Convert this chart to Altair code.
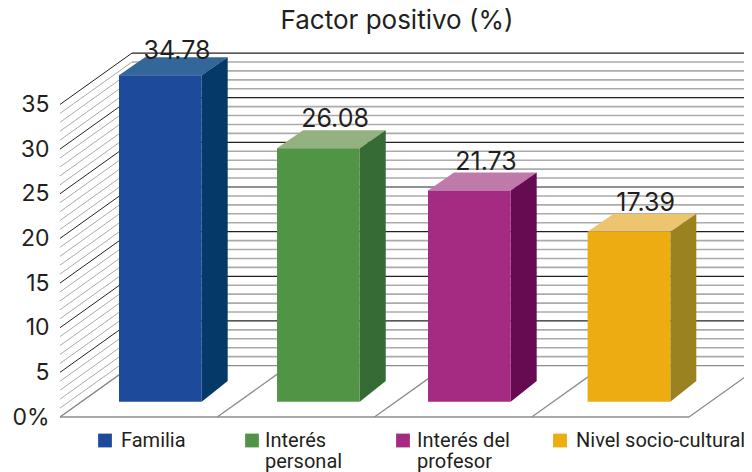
import altair as alt
import pandas as pd

# ---- values ----
chart_title = "Factor positivo (%)"
categories = ["Familia", "Interés personal", "Interés del profesor", "Nivel socio-cultural"]
legend_lines = ["Familia", "Interés\npersonal", "Interés del\nprofesor", "Nivel socio-cultural"]
values = [34.78, 26.08, 21.73, 17.39]
drawn_heights = [36.55, 28.38, 23.64, 19.03]   # bar heights as drawn, in axis units
front_colors = ["#1E4A9C", "#519445", "#A42A82", "#ECAC12"]
top_colors = ["#336699", "#93B27F", "#BE7BA9", "#EDC56F"]
side_colors = ["#053A68", "#376B36", "#660B52", "#9A8220"]
axis_ticks = [0, 5, 10, 15, 20, 25, 30, 35]
wall_levels = list(range(0, 36))

# ---- layout (units: x = category slots, y = axis units) ----
W, H = 736, 464
SLOT_PX, UNIT_PX = 157.25, 8.93
X0_PX, Y0_PX = 52, 409
bar_slot = [0.0, 1.005, 1.965, 2.98]
label_nudge = [-0.2, 0.35, 0.3, 0.35]
BAR_START = 59 / SLOT_PX
BAR_W = 82.7 / SLOT_PX
BAR_DX = 26 / SLOT_PX
BAR_BASE = 15.3 / UNIT_PX
TOP_DY = 18 / UNIT_PX
BOTTOM_DY = 20.7 / UNIT_PX
WALL_DX = 72 / SLOT_PX
WALL_DY = 51.4 / UNIT_PX
LABEL_DX = 58 / SLOT_PX

xs = alt.Scale(domain=[-X0_PX / SLOT_PX, (W - X0_PX) / SLOT_PX], range=[0, W], nice=False, zero=False)
ys = alt.Scale(domain=[(Y0_PX - H) / UNIT_PX, Y0_PX / UNIT_PX], range=[H, 0], nice=False, zero=False)
X = lambda f: alt.X(f, type="quantitative", scale=xs, axis=None)
Y = lambda f: alt.Y(f, type="quantitative", scale=ys, axis=None)

# walls
back = pd.DataFrame({"v": wall_levels})
back["x"] = WALL_DX
back["x2"] = 4.0 + WALL_DX
back["vb"] = back.v + WALL_DY
back["x0"] = 0.0
back["major"] = back.v % 5 == 0
back["floor"] = back.v == 0
minor = back[~back.major]
major = back[back.major & ~back.floor]
base = back[back.floor]


def wall(df, color, w_back, w_side):
    b = alt.Chart(df).mark_rule(color=color, strokeWidth=w_back).encode(
        x=X("x"), x2="x2", y=Y("vb"))
    s = alt.Chart(df).mark_rule(color=color, strokeWidth=w_side).encode(
        x=X("x0"), x2="x", y=Y("v"), y2="vb")
    return b + s


floor_rows = pd.DataFrame({"s": [0, 1, 2, 3, 4]})
floor_rows["x"] = floor_rows.s + WALL_DX
floor_rows["y"] = 0.0
floor_rows["y2"] = WALL_DY
floor = alt.Chart(floor_rows).mark_rule(color="#8c8c8c", strokeWidth=1.3).encode(
    x=X("s"), x2="x", y=Y("y"), y2="y2")
front_line = alt.Chart(pd.DataFrame({"a": [0.0], "b": [4.0], "y": [0.0]})).mark_rule(
    color="#8c8c8c", strokeWidth=1.5).encode(x=X("a"), x2="b", y=Y("y"))

# bars
rows, side, top = [], [], []
for i, c in enumerate(categories):
    l = bar_slot[i] + BAR_START
    r = l + BAR_W
    t = BAR_BASE + drawn_heights[i]
    rows.append(dict(cat=c, l=l, r=r, base=BAR_BASE, top=t, col=front_colors[i], val=values[i],
                     lx=bar_slot[i] + BAR_START + LABEL_DX, ly=t + TOP_DY + label_nudge[i]))
    side += [dict(cat=c, x=r, y=t, y2=BAR_BASE, col=side_colors[i]),
             dict(cat=c, x=r + BAR_DX, y=t + TOP_DY, y2=BAR_BASE + BOTTOM_DY, col=side_colors[i])]
    top += [dict(cat=c, x=l, y=t, y2=t, col=top_colors[i]),
            dict(cat=c, x=l + BAR_DX, y=t, y2=t + TOP_DY, col=top_colors[i]),
            dict(cat=c, x=r, y=t, y2=t + TOP_DY, col=top_colors[i]),
            dict(cat=c, x=r + BAR_DX, y=t + TOP_DY, y2=t + TOP_DY, col=top_colors[i])]
bars = pd.DataFrame(rows)
COL = alt.Color("col:N", scale=None, legend=None)

front_layer = alt.Chart(bars).mark_rect().encode(x=X("l"), x2="r", y=Y("top"), y2="base", color=COL)
side_layer = alt.Chart(pd.DataFrame(side)).mark_area(interpolate="linear").encode(
    x=X("x"), y=Y("y"), y2="y2", color=COL, detail="cat:N")
top_layer = alt.Chart(pd.DataFrame(top)).mark_area(interpolate="linear").encode(
    x=X("x"), y=Y("y"), y2="y2", color=COL, detail="cat:N")

FONT = "Inter"
labels = alt.Chart(bars).mark_text(font=FONT, fontSize=25, color="#231F20", baseline="alphabetic", align="center").encode(
    x=X("lx"), y=Y("ly"), text=alt.Text("val:Q", format=".2f"))

# value axis, drawn on the front edge of the left wall
axis_layer = alt.Chart(pd.DataFrame({"v": axis_ticks})).mark_point(opacity=0).encode(
    y=alt.Y("v:Q", scale=ys, axis=alt.Axis(
        values=axis_ticks, orient="left", offset=-41, domain=False, ticks=False, grid=False, title=None,
        labelFont=FONT, labelFontSize=23, labelColor="#231F20", labelPadding=0,
        labelExpr="datum.value == 0 ? '0%' : datum.label")))

# title, inside the frame
title_layer = alt.Chart(pd.DataFrame({"t": [chart_title]})).mark_text(
    font=FONT, fontSize=26, color="#231F20", baseline="alphabetic", align="center").encode(
    x=alt.value(389), y=alt.value(21), text="t:N")

# key
KEY_FONT = "Roboto"
key_swatch_x = [97, 244, 395, 552]
key_text_x = [113, 257, 409, 568]
key = pd.DataFrame({"t": legend_lines, "c": front_colors, "sx": key_swatch_x, "tx": key_text_x})
key_sw = alt.Chart(key).mark_square(size=190, opacity=1).encode(
    x=alt.X("sx:Q", scale=None), y=alt.value(432.5), color=alt.Color("c:N", scale=None, legend=None))
key_tx = alt.Chart(key).mark_text(font=KEY_FONT, fontSize=20, lineBreak="\n", lineHeight=21, align="left",
                                  baseline="alphabetic", color="#231F20").encode(
    x=alt.X("tx:Q", scale=None), y=alt.value(439), text="t:N")

chart = alt.layer(
    wall(minor, "#ababab", 1.6, 1.0),
    wall(major, "#222222", 1.2, 1.0),
    wall(base, "#8c8c8c", 1.4, 1.0),
    floor, front_line,
    top_layer, side_layer, front_layer, labels, axis_layer, title_layer, key_sw, key_tx,
).properties(
    width=W, height=H, padding=0,
    autosize=alt.AutoSizeParams(type="none"),
).configure_view(stroke=None).resolve_axis(y="independent")

chart.save("out.html", embed_options={"renderer": "svg", "actions": False})
